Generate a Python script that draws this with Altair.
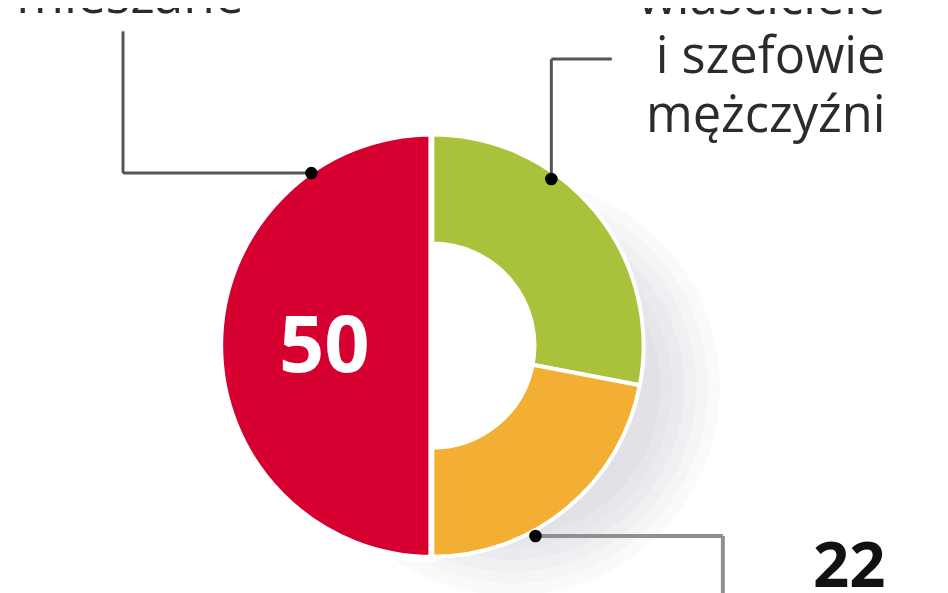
import altair as alt
import pandas as pd

# ---- data ----
segments = ["właściciele i szefowie mężczyźni", "właścicielki i szefowe kobiety", "mieszane"]
values = [28, 22, 50]
colors = ["#a9c23b", "#f3ae34", "#d5002f"]
order = [0, 1, 2]

label_top_left = "mieszane"
label_top_right = ["właściciele", "i szefowie", "mężczyźni"]
label_red_value = "50"
label_orange_value = "22"

df = pd.DataFrame({"segment": segments, "value": values, "order": order})
one = pd.DataFrame({"k": [0]})

CX, CY = 428, 338
FONT = "Open Sans"
LINE = "#555555"
TAU = 6.283185307179586

base = alt.Chart(df).transform_window(
    end="sum(value)", sort=[alt.SortField("order")], frame=[None, 0]
).transform_calculate(start="datum.end - datum.value")

theta_scale = alt.Scale(domain=[0, 100], range=[0, TAU])
color = alt.Color("segment:N", scale=alt.Scale(domain=segments, range=colors), legend=None)
enc = dict(
    theta=alt.Theta("start:Q", scale=theta_scale),
    theta2="end:Q",
    color=color,
    x=alt.value(CX),
    y=alt.value(CY),
)

# soft drop shadow (decoration) toward the lower right
shadows = [
    alt.Chart(one).mark_arc(
        outerRadius=r, innerRadius=0, theta=0, theta2=TAU, color="#767a80", opacity=0.035
    ).encode(x=alt.value(CX + 80), y=alt.value(CY + 42))
    for r in (210, 198, 186, 174, 162, 150)
]

# white hole in the middle of the ring
hole = alt.Chart(one).mark_arc(
    outerRadius=104, innerRadius=0, theta=0, theta2=TAU, color="#ffffff"
).encode(x=alt.value(CX), y=alt.value(CY))

red = base.transform_filter(alt.datum.segment == "mieszane").mark_arc(
    outerRadius=215, innerRadius=0, stroke="white", strokeWidth=8
).encode(**enc)

ring = base.transform_filter(alt.datum.segment != "mieszane").mark_arc(
    outerRadius=213, innerRadius=103, stroke="white", strokeWidth=4
).encode(**enc)


def rule(x1, y1, x2, y2, col=LINE, w=3):
    return alt.Chart(one).mark_rule(color=col, strokeWidth=w).encode(
        x=alt.value(x1), y=alt.value(y1), x2=alt.value(x2), y2=alt.value(y2)
    )


def dot(x, y):
    return alt.Chart(one).mark_point(filled=True, shape="circle", size=160, color="#000000", opacity=1).encode(
        x=alt.value(x), y=alt.value(y)
    )


lines = [
    rule(116, 21, 116, 164),
    rule(116, 164, 305, 164),
    rule(548, 49, 609, 49),
    rule(548, 49, 548, 170),
    rule(532, 530, 721, 530, "#909090", 4),
    rule(721, 530, 721, 600, "#909090", 4),
]
dots = [dot(306, 164), dot(548, 170), dot(532, 530)]

t_left = alt.Chart(one).mark_text(
    text=label_top_left, font=FONT, fontSize=52, color="#2b2b2b", align="center", baseline="alphabetic"
).encode(x=alt.value(123), y=alt.value(3))

t_right = alt.Chart(one).mark_text(
    text=label_top_right, font=FONT, fontSize=51, color="#2b2b2b", align="right", baseline="alphabetic",
    lineHeight=59.5
).encode(x=alt.value(885), y=alt.value(4))

t_50 = alt.Chart(one).mark_text(
    text=label_red_value, font=FONT, fontSize=80, fontWeight="bold", color="#ffffff", align="center",
    baseline="alphabetic"
).encode(x=alt.value(319), y=alt.value(365))

t_22 = alt.Chart(one).mark_text(
    text=label_orange_value, font=FONT, fontSize=64, fontWeight="bold", color="#111111", align="right",
    baseline="alphabetic"
).encode(x=alt.value(885), y=alt.value(581))

chart = alt.layer(*shadows, hole, red, ring, *lines, *dots, t_left, t_right, t_50, t_22).properties(
    width=940, height=585, padding=0, autosize=alt.AutoSizeParams(type="none")
).configure_view(stroke=None)

chart.save("out.html", embed_options={"renderer": "svg", "actions": False})
